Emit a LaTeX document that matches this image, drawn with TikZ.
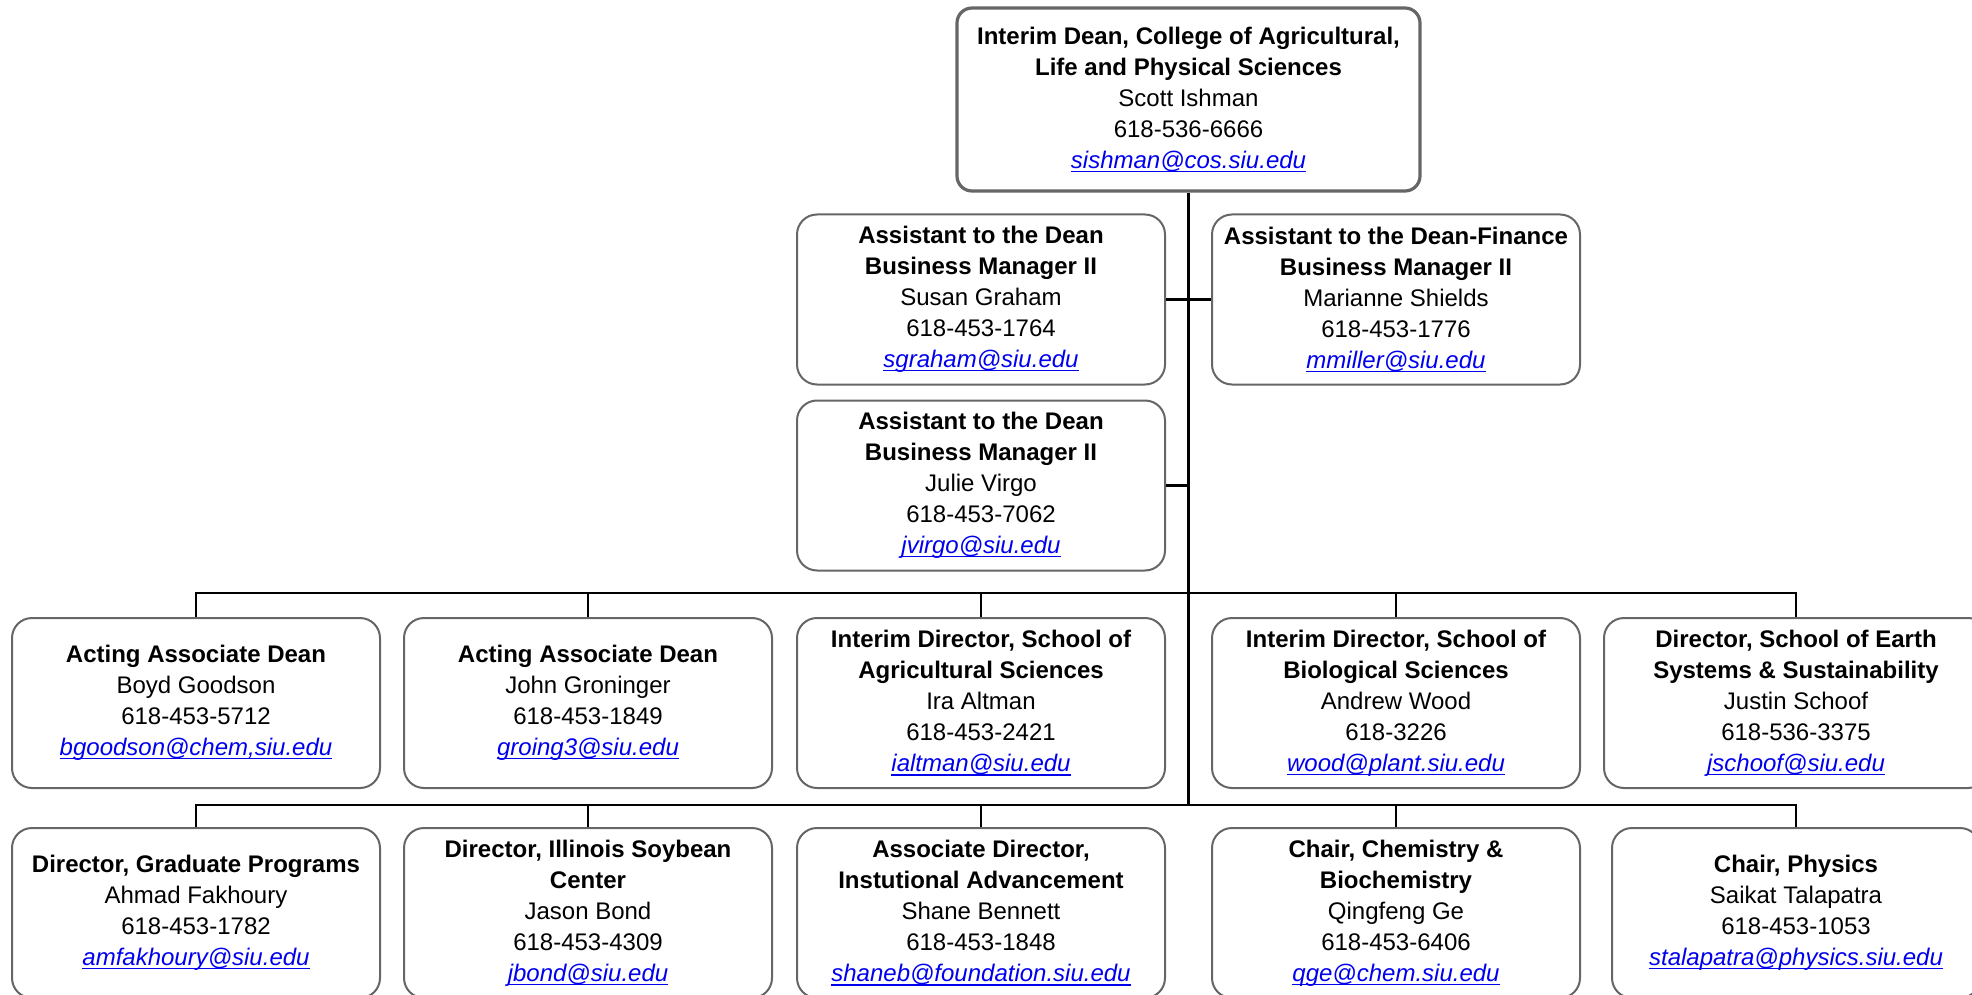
\documentclass[tikz,border=0pt]{standalone}
\usepackage{fontspec}
\setmainfont{Liberation Sans}
\definecolor{boxgray}{HTML}{666666}
\definecolor{mailblue}{HTML}{0000EE}
\newcommand{\mail}[1]{{\color{mailblue}\itshape\sbox0{#1}\rlap{\rule[-1.8pt]{\wd0}{0.6pt}}\usebox0}}

\begin{document}
\begin{tikzpicture}[x=0.5pt, y=-0.5pt]
  \tikzset{unit/.style={draw=boxgray, line width=1pt, rounded corners=10pt, minimum width=184pt, minimum height=85pt, inner sep=0pt, align=center, font={\fontsize{12}{15.5}\selectfont}},
    head/.style={unit, line width=1.6pt, rounded corners=7.5pt, minimum width=231.5pt, minimum height=91.5pt},
    link/.style={line width=1.1pt}}
  \path[use as bounding box, clip] (0,0) rectangle (1972,995);

  % dean and assistants
  \node[head] (dean) at (1188.5, 99.5) {\textbf{Interim Dean, College of Agricultural,}\\\textbf{Life and Physical Sciences}\\Scott Ishman\\618-536-6666\\\mail{sishman@cos.siu.edu}};
  \node[unit] (sgraham)  at (981, 299.5)  {\textbf{Assistant to the Dean}\\\textbf{Business Manager II}\\Susan Graham\\618-453-1764\\\mail{sgraham@siu.edu}};
  \node[unit] (mshields) at (1396, 299.5) {\textbf{Assistant to the Dean-Finance}\\\textbf{Business Manager II}\\Marianne Shields\\618-453-1776\\\mail{mmiller@siu.edu}};
  \node[unit] (jvirgo)   at (981, 485.5)  {\textbf{Assistant to the Dean}\\\textbf{Business Manager II}\\Julie Virgo\\618-453-7062\\\mail{jvirgo@siu.edu}};

  % second row
  \node[unit] (goodson)   at (196, 703)  {\textbf{Acting Associate Dean}\\Boyd Goodson\\618-453-5712\\\mail{bgoodson@chem,siu.edu}};
  \node[unit] (groninger) at (588, 703)  {\textbf{Acting Associate Dean}\\John Groninger\\618-453-1849\\\mail{groing3@siu.edu}};
  \node[unit] (altman)    at (981, 703)  {\textbf{Interim Director, School of}\\\textbf{Agricultural Sciences}\\Ira Altman\\618-453-2421\\\mail{ialtman@siu.edu}};
  \node[unit] (wood)      at (1396, 703) {\textbf{Interim Director, School of}\\\textbf{Biological Sciences}\\Andrew Wood\\618-3226\\\mail{wood@plant.siu.edu}};
  \node[unit, minimum width=192pt] (schoof) at (1796, 703) {\textbf{Director, School of Earth}\\\textbf{Systems \& Sustainability}\\Justin Schoof\\618-536-3375\\\mail{jschoof@siu.edu}};

  % third row
  \node[unit] (fakhoury)  at (196, 913)  {\textbf{Director, Graduate Programs}\\Ahmad Fakhoury\\618-453-1782\\\mail{amfakhoury@siu.edu}};
  \node[unit] (bond)      at (588, 913)  {\textbf{Director, Illinois Soybean}\\\textbf{Center}\\Jason Bond\\618-453-4309\\\mail{jbond@siu.edu}};
  \node[unit] (bennett)   at (981, 913)  {\textbf{Associate Director,}\\\textbf{Instutional Advancement}\\Shane Bennett\\618-453-1848\\\mail{shaneb@foundation.siu.edu}};
  \node[unit] (ge)        at (1396, 913) {\textbf{Chair, Chemistry \&}\\\textbf{Biochemistry}\\Qingfeng Ge\\618-453-6406\\\mail{qge@chem.siu.edu}};
  \node[unit] (talapatra) at (1796, 913) {\textbf{Chair, Physics}\\Saikat Talapatra\\618-453-1053\\\mail{stalapatra@physics.siu.edu}};

  \coordinate (bus1) at (1188.5, 593);
  \coordinate (bus2) at (1188.5, 805);
  \draw[link] (dean.south) -- (bus2);
  \draw[link] (sgraham.east) -- (mshields.west);
  \draw[link] (jvirgo.east) -- (jvirgo.east -| bus1);
  \foreach \n in {goodson,groninger,altman,wood,schoof}
    \draw[link] (bus1) -| (\n.north);
  \foreach \n in {fakhoury,bond,bennett,ge,talapatra}
    \draw[link] (bus2) -| (\n.north);
\end{tikzpicture}
\end{document}
